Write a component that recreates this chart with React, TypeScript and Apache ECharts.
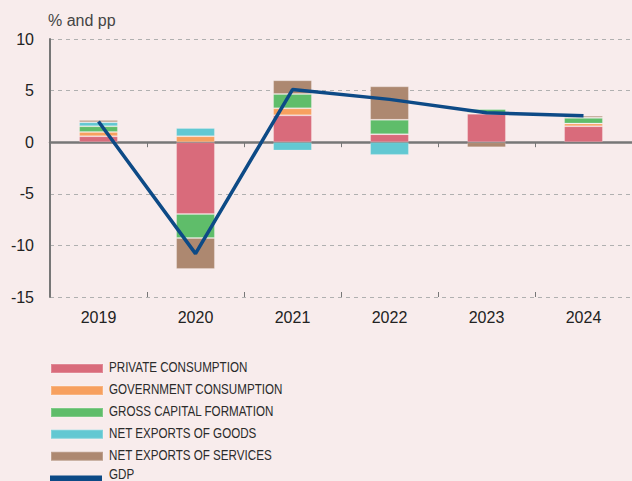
import React, { useEffect, useRef } from "react";
import * as echarts from "echarts";

const years = ["2019", "2020", "2021", "2022", "2023", "2024"];
const privateConsumption = [0.58, -6.95, 2.6, 0.78, 2.75, 1.55];
const governmentConsumption = [0.42, 0.58, 0.68, 0, 0.1, 0.26];
const grossCapitalFormation = [0.55, -2.33, 1.39, 1.39, 0.36, 0.55];
const netExportsGoods = [0.39, 0.8, -0.8, -1.23, 0, 0];
const netExportsServices = [0.2, -3.0, 1.33, 3.24, -0.5, 0.2];
const gdp = [2.0, -10.8, 5.1, 4.15, 2.85, 2.56];
const yTicks = { min: -15, max: 10, interval: 5 };
const seriesNames = [
  "PRIVATE CONSUMPTION",
  "GOVERNMENT CONSUMPTION",
  "GROSS CAPITAL FORMATION",
  "NET EXPORTS OF GOODS",
  "NET EXPORTS OF SERVICES",
  "GDP",
];
const seriesColors = ["#d96b7b", "#f7a05f", "#5fbd6a", "#62c8d2", "#ad8870", "#0d4a86"];

const BG = "#f8ecec";
const FONT = "'Liberation Sans', Arial, Helvetica, sans-serif";
const legendCenters = [367.5, 389.5, 411.5, 433.3, 455.3, 480];
const legendTextCenters = [367, 389, 411, 433, 455, 474];

export default function App() {
  const ref = useRef<HTMLDivElement>(null);
  useEffect(() => {
    document.body.style.margin = "0";
    document.body.style.background = BG;
    const chart = echarts.init(ref.current!, null, { renderer: "svg" });
    const barSeries = (i: number, data: number[]) => ({
      name: seriesNames[i],
      type: "bar",
      stack: "total",
      data,
      barWidth: "40%",
      xAxisIndex: 0,
      itemStyle: { color: seriesColors[i], borderColor: "rgba(255,255,255,0.2)", borderWidth: 1 },
    });
    const legends = seriesNames.map((name, i) => ({
      orient: "vertical",
      left: 50,
      top: legendCenters[i] - 4.5,
      padding: 0,
      itemWidth: 52,
      itemHeight: 9,
      icon: "rect",
      formatter: () => "",
      textStyle: { fontSize: 1 },
      data: [name],
    }));
    const legendTexts = seriesNames.map((name, i) => ({
      type: "text",
      x: 109,
      y: legendTextCenters[i],
      scaleX: 0.83,
      silent: true,
      style: {
        text: name,
        font: "14px 'Liberation Sans', Arial, sans-serif",
        fill: "#2b2b2b",
        verticalAlign: "middle",
        align: "left",
      },
    }));
    const option: any = {
      animation: false,
      backgroundColor: BG,
      textStyle: { fontFamily: FONT },
      title: {
        text: "% and pp",
        left: 48,
        top: 12,
        padding: 0,
        textStyle: { fontSize: 16, fontWeight: "normal", color: "#444", fontFamily: FONT },
      },
      grid: { left: 50, right: 0, top: 39, bottom: 184, containLabel: false },
      legend: legends,
      graphic: legendTexts,
      xAxis: [
        {
          type: "category",
          data: years,
          position: "bottom",
          axisLine: { show: false, onZero: false },
          axisTick: { show: false },
          axisLabel: { fontSize: 16, color: "#222", margin: 12 },
        },
        {
          type: "category",
          data: years,
          position: "bottom",
          axisLine: { show: true, onZero: true, lineStyle: { color: "#777", width: 2.5 } },
          axisTick: { show: true, length: 5, inside: false, lineStyle: { color: "#777", width: 1 } },
          axisLabel: { show: false },
        },
        {
          type: "category",
          data: years,
          position: "bottom",
          axisLine: { show: false, onZero: true },
          axisTick: { show: true, length: 5, inside: true, lineStyle: { color: "#777", width: 1 } },
          axisLabel: { show: false },
        },
      ],
      yAxis: {
        type: "value",
        min: yTicks.min,
        max: yTicks.max,
        interval: yTicks.interval,
        axisLine: { show: true, onZero: false, lineStyle: { color: "#777", width: 2 } },
        axisTick: { show: false },
        axisLabel: { fontSize: 16, color: "#222", margin: 16 },
        splitLine: { show: true, lineStyle: { color: "#b0b0b0", type: [4, 4], width: 1 } },
      },
      series: [
        barSeries(0, privateConsumption),
        barSeries(1, governmentConsumption),
        barSeries(2, grossCapitalFormation),
        barSeries(3, netExportsGoods),
        barSeries(4, netExportsServices),
        {
          name: seriesNames[5],
          type: "line",
          data: gdp,
          xAxisIndex: 0,
          showSymbol: false,
          symbol: "none",
          lineStyle: { color: seriesColors[5], width: 3.5 },
          itemStyle: { color: seriesColors[5] },
          z: 5,
        },
      ],
    };
    chart.setOption(option);
    return () => chart.dispose();
  }, []);
  return <div ref={ref} style={{ width: 632, height: 481, background: BG }} />;
}
